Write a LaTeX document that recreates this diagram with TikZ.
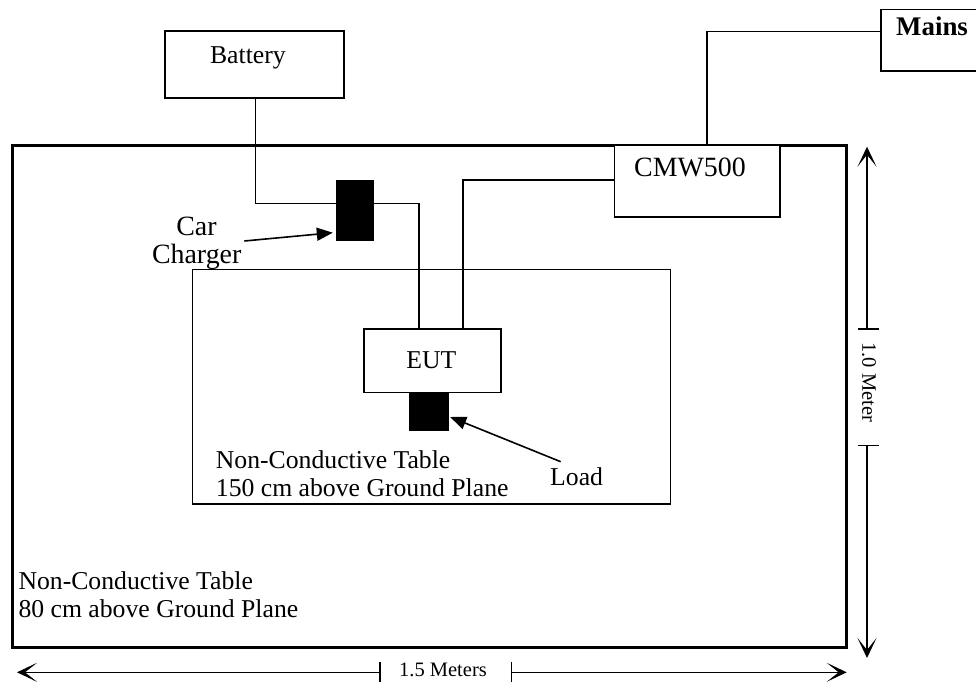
\documentclass[tikz,border=0pt]{standalone}
\usepackage{fontspec}
\setmainfont{Liberation Serif}
\usetikzlibrary{arrows.meta}
\begin{document}
\begin{tikzpicture}[x=1pt,y=-1pt,
  box/.style={draw, line width=1.6pt, inner sep=0pt},
  blk/.style={fill=black, draw=none, inner sep=0pt},
  wire/.style={line width=1.6pt},
  txt/.style={inner sep=0pt, font=\fontsize{25.7}{28}\selectfont},
  bigtxt/.style={inner sep=0pt, font=\fontsize{27.9}{28}\selectfont},
  small/.style={inner sep=0pt, font=\fontsize{20.5}{22}\selectfont},
  ptr/.style={line width=1.6pt, -{Triangle[length=16pt,width=13pt]}},
  dim/.style={line width=1.5pt},
  dimtip/.style={line width=1.5pt, -{Stealth[length=20pt,width=19pt,inset=12pt]}}
]
\useasboundingbox (0,0) rectangle (976,681);

% tables
\node[box, line width=3pt, minimum width=834pt, minimum height=502pt] (outer) at (429,396) {};
\node[box, line width=1.4pt, minimum width=478.4pt, minimum height=234.7pt] (inner) at (431.5,386.65) {};

% boxes
\node[box, minimum width=178.7pt, minimum height=67pt] (bat) at (254.35,64.2) {};
\node[txt, anchor=base] (batT) at (247.9,63.3) {Battery};

\node[blk, minimum width=38pt, minimum height=61pt] (chg) at (355,210.5) {};

\node[box, minimum width=119pt, minimum height=61.4pt] (mains) at (940.5,40) {};
\node[inner sep=0pt, anchor=base west, font=\fontsize{26.9}{28}\selectfont\bfseries] (mainsT) at (896,35) {Mains};

\node[box, fill=white, minimum width=165.7pt, minimum height=71.7pt] (cmw) at (697.15,180.85) {};
\node[bigtxt, anchor=base] (cmwT) at (690,176.7) {CMW500};

\node[box, minimum width=137pt, minimum height=63.3pt] (eut) at (432.2,360.65) {};
\node[txt, anchor=base] (eutT) at (431.3,368.3) {EUT};

\node[blk, minimum width=40pt, minimum height=38.4pt] (load) at (429.3,411.5) {};

% wires
\draw[wire] ([xshift=1pt]bat.south) |- ([yshift=7.2pt]chg.west);
\draw[wire] ([yshift=7.2pt]chg.east) -| ([xshift=-13.2pt]eut.north);
\draw[wire] ([yshift=0.85pt]cmw.west) -| ([xshift=30.5pt]eut.north);
\draw[wire] ([yshift=8.5pt]mains.west) -| ([xshift=9.55pt]cmw.north);

% car charger label and arrow
\node[bigtxt, anchor=base] (carT) at (196.4,235) {Car};
\node[bigtxt, anchor=base] (chargerT) at (196.7,263.3) {Charger};
\coordinate (ccTail) at (244.3,241);
\draw[ptr] (ccTail) -- ([xshift=-3pt,yshift=-22.2pt]chg.west);

% load label and arrow
\node[txt, anchor=base west] (loadT) at (550,485) {Load};
\coordinate (ldTail) at (560.7,461.7);
\draw[ptr] (ldTail) -- ([xshift=0.7pt,yshift=-5.5pt]load.east);

% table texts
\node[txt, anchor=base west] (in1) at (215.7,468) {Non-Conductive Table};
\node[txt, anchor=base west] (in2) at (215.7,496) {150 cm above Ground Plane};
\node[txt, anchor=base west] (out1) at (18.3,589.3) {Non-Conductive Table};
\node[txt, anchor=base west] (out2) at (18.3,617.3) {80 cm above Ground Plane};

% horizontal dimension
\coordinate (hL) at (17,672.3);
\coordinate (hT1) at (380,672.3);
\coordinate (hT2) at (511.7,672.3);
\coordinate (hR) at (846.7,672.3);
\draw[dimtip] (hT1) -- (hL);
\draw[dimtip] (hT2) -- (hR);
\draw[dim] (380,662) -- (380,683);
\draw[dim] (511.7,662) -- (511.7,683);
\node[small, anchor=base] (hlab) at (443,676.7) {1.5 Meters};

% vertical dimension
\coordinate (vT) at (867,146.7);
\coordinate (vT1) at (867,329);
\coordinate (vT2) at (867,445.7);
\coordinate (vB) at (867,658);
\draw[dimtip] (vT1) -- (vT);
\draw[dimtip] (vT2) -- (vB);
\draw[dim] (858,329) -- (879,329);
\draw[dim] (858,445.7) -- (879,445.7);
\node[small, rotate=-90] (vlab) at (869,382.2) {1.0 Meter};
\end{tikzpicture}
\end{document}
